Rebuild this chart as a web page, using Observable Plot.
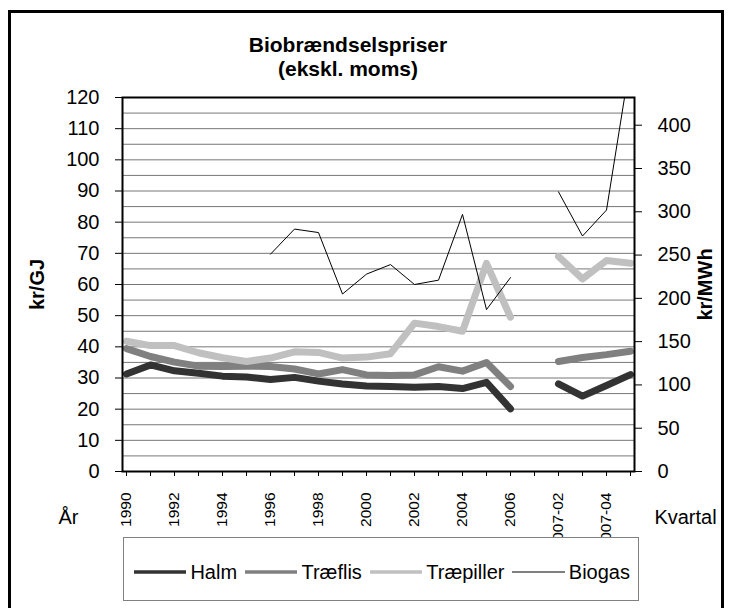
<!DOCTYPE html>
<html>
<head>
<meta charset="utf-8">
<script src="https://cdn.jsdelivr.net/npm/d3@7"></script>
<script src="https://cdn.jsdelivr.net/npm/@observablehq/plot@0.6"></script>
<style>
html, body { margin: 0; padding: 0; background: #fff; width: 731px; height: 608px; overflow: hidden; }
body { position: relative; font-family: "Liberation Sans", Arial, Helvetica, sans-serif; color: #000; }
#frame { position: absolute; left: 8px; top: 10px; width: 710px; height: 700px; border: 3px solid #000; background: #fff; }
#title { position: absolute; left: 148px; width: 400px; top: 33px; text-align: center; font-weight: bold; font-size: 21px; line-height: 24px; }
#chart { position: absolute; left: 12px; top: 80px; }
#chart svg text { font-family: "Liberation Sans", Arial, Helvetica, sans-serif; }
#legend { position: absolute; left: 123px; top: 537px; width: 514px; height: 62px; border: 1px solid #808080; background: #fff; }
#legend .row { display: flex; align-items: center; height: 24px; margin-top: 22px; padding-left: 10px; font-size: 20px; }
#legend .sw { display: block; margin-right: 4px; }
#legend .lab { margin-right: 8px; white-space: nowrap; }
</style>
</head>
<body>
<div id="frame"></div>
<div id="title">Biobrændselspriser<br>(ekskl. moms)</div>
<div id="chart"></div>
<div id="legend"><div class="row" id="legendRow"></div></div>
<script>
// ---- data ----
const categories = ["1990","1991","1992","1993","1994","1995","1996","1997","1998","1999",
  "2000","2001","2002","2003","2004","2005","2006","2007-01","2007-02","2007-03","2007-04","2008-01"];
const xTickLabels = ["1990","1992","1994","1996","1998","2000","2002","2004","2006","2007-02","2007-04"];
// kr/GJ
const halm = [31.3, 34.2, 32.3, 31.5, 30.6, 30.3, 29.5, 30.2, 29.0, 28.1, 27.4, 27.3, 27.0, 27.3, 26.6, 28.6, 20.1, null, 28.1, 24.2, 27.6, 31.1];
const traeflis = [39.4, 36.9, 35.1, 33.8, 33.7, 33.8, 33.7, 32.9, 31.3, 32.7, 31.0, 30.8, 31.0, 33.6, 32.2, 35.0, 27.3, null, 35.3, 36.6, 37.5, 38.6];
const traepiller = [41.8, 40.4, 40.4, 38.1, 36.5, 35.3, 36.4, 38.4, 38.2, 36.4, 36.7, 37.8, 47.6, 46.5, 45.0, 66.8, 49.5, null, 69.0, 61.8, 67.7, 66.8];
// kr/MWh (right axis)
const biogas = [null, null, null, null, null, null, 251, 280, 276, 205, 228, 239, 216, 221, 297, 187, 224, null, 323, 272, 302, 475];
const leftTicks = [0, 10, 20, 30, 40, 50, 60, 70, 80, 90, 100, 110, 120];
const gridTicks = [5, 10, 15, 20, 25, 30, 35, 40, 45, 50, 55, 60, 65, 70, 75, 80, 85, 90, 95, 100, 105, 110, 115];
const rightTicks = [0, 50, 100, 150, 200, 250, 300, 350, 400];
const GJ_PER_MWH = 3.6;
const seriesNames = ["Halm", "Træflis", "Træpiller", "Biogas"];
const seriesColors = ["#333333", "#808080", "#c0c0c0", "#000000"];
const seriesWidths = [7, 7, 7, 1];

const FONT = "'Liberation Sans', Arial, Helvetica, sans-serif";
const toRows = (arr) => categories.map((c, i) => ({cat: c, v: arr[i]}));

const lineOpts = (k) => ({
  x: "cat", y: "v", stroke: seriesColors[k], strokeWidth: seriesWidths[k],
  strokeLinecap: "round", strokeLinejoin: "round"
});

const chart = Plot.plot({
  width: 708,
  height: 457,
  marginLeft: 110,
  marginRight: 86,
  marginTop: 17,
  marginBottom: 66,
  style: {background: "transparent", fontFamily: FONT, fontSize: "20px", color: "#000", overflow: "hidden"},
  x: {type: "point", domain: categories, padding: 0},
  y: {domain: [0, 120]},
  marks: [
    Plot.gridY(gridTicks, {stroke: "#777", strokeOpacity: 1, strokeWidth: 1}),
    Plot.line(toRows(halm), lineOpts(0)),
    Plot.line(toRows(traeflis), lineOpts(1)),
    Plot.line(toRows(traepiller), lineOpts(2)),
    Plot.line(toRows(biogas), {...lineOpts(3), y: d => d.v == null ? null : d.v / GJ_PER_MWH, clip: true}),
    Plot.frame({stroke: "#000", strokeWidth: 2}),
    Plot.axisY(leftTicks, {anchor: "left", tickSize: 7, tickPadding: 16, fontSize: 20, fontFamily: FONT, label: null}),
    Plot.axisY(rightTicks.map(v => v / GJ_PER_MWH), {anchor: "right", tickSize: 7, tickPadding: 16, fontSize: 20, fontFamily: FONT, label: null,
      tickFormat: d => String(Math.round(d * GJ_PER_MWH))}),
    Plot.axisX(categories, {anchor: "bottom", tickSize: 5, tickFormat: () => "", label: null}),
    Plot.axisX(xTickLabels, {anchor: "bottom", tickSize: 0, tickPadding: 21, tickRotate: -90, fontSize: 15.5, fontFamily: FONT, label: null}),
    Plot.text(["kr/GJ"], {text: d => d, frameAnchor: "left", dx: -85, rotate: -90, fontWeight: "bold", fontSize: 20, fontFamily: FONT, textAnchor: "middle", lineAnchor: "middle"}),
    Plot.text(["kr/MWh"], {text: d => d, frameAnchor: "right", dx: 71, rotate: -90, fontWeight: "bold", fontSize: 20, fontFamily: FONT, textAnchor: "middle", lineAnchor: "middle"}),
    Plot.text(["År"], {text: d => d, frameAnchor: "bottom-left", dx: -54, dy: 46, fontSize: 20, fontFamily: FONT, textAnchor: "middle", lineAnchor: "middle"}),
    Plot.text(["Kvartal"], {text: d => d, frameAnchor: "bottom-right", dx: 51, dy: 46, fontSize: 20, fontFamily: FONT, textAnchor: "middle", lineAnchor: "middle"})
  ]
});
document.getElementById("chart").appendChild(chart);

// ---- legend ----
const row = document.getElementById("legendRow");
seriesNames.forEach((name, k) => {
  const ns = "http://www.w3.org/2000/svg";
  const svg = document.createElementNS(ns, "svg");
  svg.setAttribute("width", 54); svg.setAttribute("height", 10);
  svg.setAttribute("class", "sw");
  const ln = document.createElementNS(ns, "line");
  ln.setAttribute("x1", 0); ln.setAttribute("x2", 54);
  ln.setAttribute("y1", 5); ln.setAttribute("y2", 5);
  ln.setAttribute("stroke", seriesColors[k]);
  ln.setAttribute("stroke-width", k < 3 ? 3.5 : 1);
  svg.appendChild(ln);
  row.appendChild(svg);
  const span = document.createElement("span");
  span.className = "lab";
  span.textContent = name;
  row.appendChild(span);
});
</script>
</body>
</html>
